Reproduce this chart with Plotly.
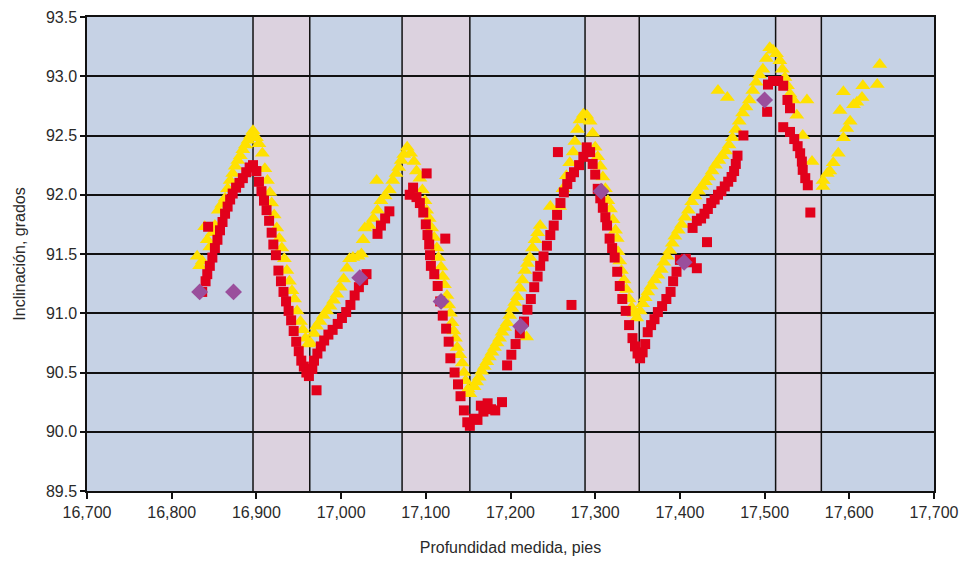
import plotly.graph_objects as go

# Depth intervals shaded pink (feet)
zone_start = [16896, 17072, 17288, 17513]
zone_end = [16963, 17152, 17352, 17567]

# Red squares
red_x = [16836, 16840, 16843, 16842, 16845, 16848, 16851, 16854, 16857, 16860, 16863, 16866, 16869, 16872, 16876, 16880, 16884, 16888, 16892, 16896,
         16900, 16903, 16906, 16909, 16912, 16915, 16918, 16920, 16923, 16926, 16929, 16932, 16935, 16938, 16941, 16944, 16947, 16950, 16953, 16956, 16959, 16962, 16966, 16971,
         16968, 16972, 16976, 16980, 16985, 16990, 16996, 17001, 17006, 17011, 17016, 17021, 17026, 17030, 17043, 17047, 17052, 17057,
         17081, 17085, 17089, 17093, 17097, 17100, 17102, 17104, 17105, 17106, 17101, 17123, 17110, 17114, 17117, 17120, 17124, 17127, 17129, 17134, 17138, 17141, 17145, 17149, 17152, 17157, 17161, 17165, 17168, 17173, 17177, 17182, 17190,
         17196, 17201, 17206, 17211, 17216, 17220, 17224, 17228, 17232, 17235, 17239, 17243, 17247, 17251, 17255, 17259, 17263, 17267, 17271, 17275, 17256, 17272, 17281, 17286, 17290,
         17294, 17297, 17300, 17303, 17306, 17309, 17312, 17314, 17317, 17320, 17323, 17326, 17329, 17332, 17336, 17340, 17344, 17347, 17350, 17353, 17356,
         17359, 17362, 17366, 17370, 17374, 17379, 17384, 17389, 17392, 17396, 17400, 17407, 17413, 17420, 17432, 17415, 17420, 17425, 17429, 17433, 17437, 17441, 17445, 17449, 17453, 17457, 17461, 17464, 17466, 17468, 17475, 17503, 17504, 17510, 17516, 17522,
         17527, 17530, 17522, 17530, 17535, 17539, 17542, 17544, 17545, 17548, 17551, 17554]
red_y = [91.18, 91.27, 91.73, 91.33, 91.40, 91.47, 91.55, 91.62, 91.70, 91.77, 91.84, 91.90, 91.96, 92.01, 92.06, 92.10, 92.14, 92.19, 92.23, 92.25,
         92.20, 92.11, 92.03, 91.95, 91.87, 91.78, 91.68, 91.58, 91.49, 91.36, 91.27, 91.18, 91.10, 91.02, 90.94, 90.85, 90.76, 90.68, 90.60, 90.55, 90.50, 90.47, 90.53, 90.35,
         90.60, 90.66, 90.72, 90.77, 90.82, 90.86, 90.91, 90.96, 91.01, 91.07, 91.15, 91.22, 91.28, 91.33, 91.67, 91.74, 91.80, 91.86,
         92.00, 92.06, 91.98, 91.93, 91.85, 91.75, 91.66, 91.58, 91.49, 91.40, 92.18, 91.63, 91.33, 91.23, 91.10, 90.98, 90.87, 90.76, 90.62, 90.50, 90.40, 90.30, 90.18, 90.08, 90.05, 90.11, 90.10, 90.22, 90.17, 90.24, 90.19, 90.18, 90.25,
         90.56, 90.65, 90.74, 90.83, 90.93, 91.03, 91.12, 91.22, 91.31, 91.40, 91.48, 91.57, 91.66, 91.74, 91.83, 91.93, 92.02, 92.09, 92.15, 92.19, 92.36, 91.07, 92.25, 92.32, 92.40,
         92.36, 92.26, 92.17, 92.05, 91.97, 91.89, 91.81, 91.74, 91.63, 91.55, 91.47, 91.35, 91.23, 91.12, 91.02, 90.90, 90.79, 90.72, 90.66, 90.62, 90.67,
         90.74, 90.84, 90.90, 90.95, 91.01, 91.06, 91.12, 91.18, 91.27, 91.35, 91.45, 91.46, 91.43, 91.38, 91.60, 91.72, 91.78, 91.80, 91.84, 91.88, 91.93, 91.96, 92.00, 92.03, 92.07, 92.11, 92.15, 92.20, 92.26, 92.33, 92.50, 92.70, 92.93, 92.96, 92.96, 92.92,
         92.80, 92.73, 92.57, 92.53, 92.47, 92.41, 92.35, 92.28, 92.21, 92.14, 92.08, 91.85]

# Yellow triangles
yel_x = [16830, 16833, 16836, 16839, 16842, 16845, 16848, 16851, 16855, 16859, 16863, 16866, 16869, 16872, 16875, 16878, 16881, 16884, 16887, 16890, 16893, 16896,
         16900, 16903, 16907, 16910, 16913, 16916, 16918, 16921, 16924, 16927, 16930, 16933, 16936, 16939, 16942, 16945, 16948, 16952, 16955, 16958, 16961, 16964,
         16968, 16971, 16975, 16979, 16983, 16987, 16991, 16995, 16999, 17003, 17007, 17010, 17014, 17020, 17024, 17026, 17028, 17033, 17038, 17043, 17042, 17047, 17052, 17057, 17061, 17065, 17068, 17071, 17074, 17078,
         17082, 17086, 17089, 17093, 17096, 17099, 17101, 17104, 17107, 17110, 17113, 17115, 17118, 17120, 17122, 17125, 17127, 17129, 17131, 17133, 17135, 17137, 17140, 17143, 17145, 17147, 17150, 17152,
         17157, 17160, 17163, 17166, 17169, 17172, 17175, 17178, 17181, 17184, 17187, 17190, 17193, 17196, 17199, 17202, 17205, 17208, 17211, 17214, 17217, 17220, 17223, 17226, 17229, 17232, 17235, 17219, 17247, 17258, 17262, 17266, 17270, 17274, 17276, 17279, 17282, 17286, 17290, 17294,
         17297, 17300, 17303, 17306, 17309, 17312, 17315, 17318, 17321, 17324, 17326, 17327, 17329, 17331, 17334, 17337, 17340, 17343, 17346, 17349,
         17353, 17356, 17359, 17362, 17366, 17370, 17374, 17378, 17381, 17385, 17388, 17391, 17394, 17398, 17402, 17406, 17410, 17414, 17418, 17422, 17426, 17430, 17434, 17438, 17442, 17446, 17450, 17454, 17458, 17462, 17466, 17470, 17474, 17478, 17445, 17456,
         17482, 17486, 17490, 17494, 17498, 17502, 17506, 17510, 17514, 17518, 17521, 17524, 17527, 17530, 17534, 17550, 17538, 17545, 17556, 17569,
         17569, 17574, 17577, 17581, 17587, 17593, 17597, 17601, 17589, 17593, 17605, 17609, 17615, 17616, 17633, 17636]
yel_y = [91.48, 91.40, 91.44, 91.73, 91.62, 91.56, 91.68, 91.74, 91.87, 91.92, 91.97, 92.05, 92.12, 92.18, 92.24, 92.29, 92.33, 92.38, 92.42, 92.46, 92.50, 92.54,
         92.48, 92.43, 92.35, 92.22, 92.12, 92.02, 91.93, 91.83, 91.72, 91.63, 91.55, 91.46, 91.36, 91.27, 91.19, 91.12, 91.02, 90.93, 90.86, 90.79, 90.74, 90.75,
         90.83, 90.89, 90.93, 90.98, 91.02, 91.06, 91.11, 91.16, 91.22, 91.29, 91.38, 91.46, 91.47, 91.48, 91.50, 91.62, 91.72, 91.74, 91.80, 91.87, 92.12, 91.95, 91.99, 92.04, 92.12, 92.18, 92.23, 92.29, 92.34, 92.40,
         92.35, 92.28, 92.20, 92.14, 92.04, 91.95, 91.87, 91.80, 91.72, 91.64, 91.55, 91.47, 91.39, 91.31, 91.24, 91.15, 91.07, 91.00, 90.92, 90.85, 90.79, 90.71, 90.65, 90.58, 90.50, 90.43, 90.36, 90.32,
         90.38, 90.42, 90.46, 90.51, 90.55, 90.59, 90.63, 90.67, 90.71, 90.75, 90.79, 90.84, 90.88, 90.92, 90.98, 91.04, 91.09, 91.14, 91.21, 91.28, 91.36, 91.42, 91.47, 91.55, 91.62, 91.68, 91.74, 90.80, 91.90, 91.90, 92.05, 92.16, 92.27, 92.36, 92.45, 92.55, 92.63, 92.68, 92.67, 92.62,
         92.52, 92.40, 92.32, 92.24, 92.15, 92.05, 91.95, 91.88, 91.79, 91.70, 91.63, 91.52, 91.44, 91.36, 91.28, 91.20, 91.12, 91.05, 91.00, 90.96,
         91.02, 91.08, 91.13, 91.18, 91.23, 91.28, 91.32, 91.37, 91.43, 91.48, 91.53, 91.59, 91.65, 91.70, 91.75, 91.81, 91.87, 91.94, 91.99, 92.03, 92.07, 92.11, 92.15, 92.20, 92.25, 92.29, 92.33, 92.37, 92.42, 92.48, 92.55, 92.62, 92.69, 92.74, 92.88, 92.82,
         92.80, 92.88, 92.95, 93.01, 93.06, 93.15, 93.24, 93.22, 93.19, 93.13, 93.06, 92.99, 92.92, 92.85, 92.80, 92.80, 92.67, 92.50, 92.28, 92.07,
         92.12, 92.18, 92.20, 92.27, 92.35, 92.48, 92.56, 92.62, 92.71, 92.87, 92.76, 92.78, 92.82, 92.92, 92.93, 93.10]

# Purple diamonds
dia_x = [16833, 16873, 17022, 17118, 17212, 17307, 17405, 17500]
dia_y = [91.18, 91.18, 91.30, 91.10, 90.89, 92.03, 91.43, 92.80]

x_ticks = list(range(16700, 17701, 100))
y_ticks = [89.5, 90.0, 90.5, 91.0, 91.5, 92.0, 92.5, 93.0, 93.5]

BLUE = "#c6d2e5"
PINK = "#dcd2df"
FONT = "Liberation Sans, Arial, sans-serif"

fig = go.Figure()
fig.add_trace(go.Scatter(x=yel_x, y=yel_y, mode="markers",
                         marker=dict(symbol="triangle-up", size=13, color="#ffe100", line=dict(width=0)),
                         showlegend=False))
fig.add_trace(go.Scatter(x=red_x, y=red_y, mode="markers",
                         marker=dict(symbol="square", size=10, color="#e2001b", line=dict(width=0)),
                         showlegend=False))
fig.add_trace(go.Scatter(x=dia_x, y=dia_y, mode="markers",
                         marker=dict(symbol="diamond", size=13, color="#9a4f9c", line=dict(width=0)),
                         showlegend=False))

shapes = []
for s, e in zip(zone_start, zone_end):
    shapes.append(dict(type="rect", xref="x", yref="paper", x0=s, x1=e, y0=0, y1=1,
                       fillcolor=PINK, line=dict(width=0), layer="below"))
for v in zone_start + zone_end:
    shapes.append(dict(type="line", xref="x", yref="paper", x0=v, x1=v, y0=0, y1=1,
                       line=dict(color="#111111", width=1.5), layer="below"))
fig.update_layout(shapes=shapes)

fig.update_layout(
    width=963, height=561,
    margin=dict(l=87, r=29, t=17, b=70),
    paper_bgcolor="white",
    plot_bgcolor=BLUE,
    separators=".,",
    font=dict(family=FONT, size=16, color="#2a2a2a"),
    xaxis=dict(range=[16700, 17700], tickvals=x_ticks, tickformat=",d", automargin=False,
               showgrid=False, zeroline=False,
               showline=True, linecolor="#111111", linewidth=1.5, mirror=True,
               ticks="outside", ticklen=6, tickcolor="#111111", tickwidth=1.5,
               title=dict(text="Profundidad medida, pies", font=dict(size=16), standoff=22)),
    yaxis=dict(range=[89.5, 93.5], tickvals=y_ticks, tickformat=".1f", automargin=False,
               showgrid=True, gridcolor="#111111", gridwidth=1.5, zeroline=False,
               showline=True, linecolor="#111111", linewidth=1.5, mirror=True,
               ticks="outside", ticklen=5, tickcolor="#111111", tickwidth=1.5,
               title=dict(text="Inclinación, grados", font=dict(size=16), standoff=16)),
)

fig.write_html("out.html", config={"displayModeBar": False},
               post_script="document.body.style.margin='0px';document.body.style.overflow='hidden';")
